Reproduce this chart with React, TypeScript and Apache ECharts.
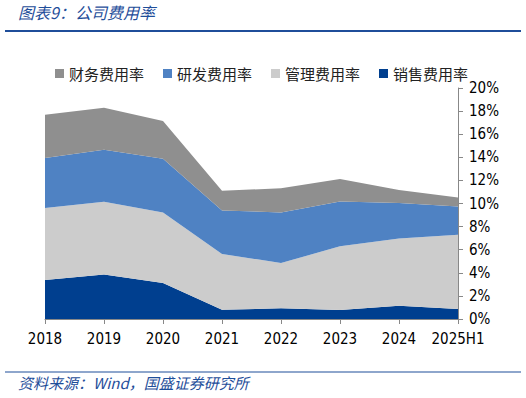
import React, { useEffect, useRef } from "react";
import * as echarts from "echarts";

const categories = ["2018", "2019", "2020", "2021", "2022", "2023", "2024", "2025H1"];
const salesRate = [3.38, 3.86, 3.12, 0.8, 0.92, 0.78, 1.15, 0.87];
const adminRate = [6.23, 6.3, 6.11, 4.83, 3.93, 5.51, 5.83, 6.43];
const rdRate = [4.33, 4.5, 4.65, 3.77, 4.38, 3.89, 3.06, 2.45];
const financeRate = [3.75, 3.63, 3.26, 1.71, 2.08, 1.94, 1.13, 0.78];
const legendOrder = ["财务费用率", "研发费用率", "管理费用率", "销售费用率"];

const numFont = "'DejaVu Sans Condensed', 'DejaVu Sans', sans-serif";
const cjkFont = "'Noto Sans CJK SC', sans-serif";
const blue = "#1f4e9a";

export default function App() {
  const ref = useRef<HTMLDivElement>(null);
  useEffect(() => {
    if (!ref.current) return;
    const chart = echarts.init(ref.current, null, { renderer: "svg" });
    const area = (name: string, data: number[], color: string) => ({
      name,
      type: "line",
      stack: "total",
      data,
      symbol: "none",
      lineStyle: { width: 0 },
      areaStyle: { color, opacity: 1 },
      itemStyle: { color },
    });
    chart.setOption({
      animation: false,
      backgroundColor: "#ffffff",
      graphic: [
        {
          type: "text",
          left: 18,
          top: 4,
          style: {
            text: "图表9：公司费用率",
            fill: blue,
            font: `italic 16px ${cjkFont}`,
          },
        },
        {
          type: "rect",
          shape: { x: 5, y: 30, width: 516, height: 2 },
          style: { fill: blue },
        },
        {
          type: "rect",
          shape: { x: 5, y: 371.5, width: 516, height: 1 },
          style: { fill: blue },
        },
        {
          type: "text",
          left: 18,
          top: 375,
          style: {
            text: "资料来源：Wind，国盛证券研究所",
            fill: blue,
            font: `italic 15px ${cjkFont}`,
          },
        },
      ],
      legend: {
        data: legendOrder,
        left: 50,
        top: 61,
        icon: "rect",
        itemWidth: 9,
        itemHeight: 9,
        itemGap: 19,
        textStyle: { fontFamily: cjkFont, fontSize: 15, color: "#222" },
      },
      grid: { left: 45, right: 68, top: 88, bottom: 79 },
      xAxis: {
        type: "category",
        data: categories,
        boundaryGap: false,
        axisLine: { lineStyle: { color: "#888", width: 1 } },
        axisTick: { show: true, length: 5, alignWithLabel: true, lineStyle: { color: "#888" } },
        axisLabel: { color: "#000", fontFamily: numFont, fontSize: 15, margin: 12, interval: 0 },
        splitLine: { show: false },
      },
      yAxis: {
        type: "value",
        position: "right",
        min: 0,
        max: 20,
        interval: 2,
        axisLine: { show: true, lineStyle: { color: "#888", width: 1 } },
        axisTick: { show: true, length: 5, lineStyle: { color: "#888" } },
        axisLabel: { color: "#000", fontFamily: numFont, fontSize: 15, margin: 11, formatter: "{value}%" },
        splitLine: { show: false },
      },
      series: [
        area("销售费用率", salesRate, "#003f8f"),
        area("管理费用率", adminRate, "#cccccc"),
        area("研发费用率", rdRate, "#4f82c3"),
        area("财务费用率", financeRate, "#8f8f8f"),
      ],
    });
    return () => chart.dispose();
  }, []);
  return <div ref={ref} style={{ width: 526, height: 398, position: "absolute", left: 0, top: 0 }} />;
}
